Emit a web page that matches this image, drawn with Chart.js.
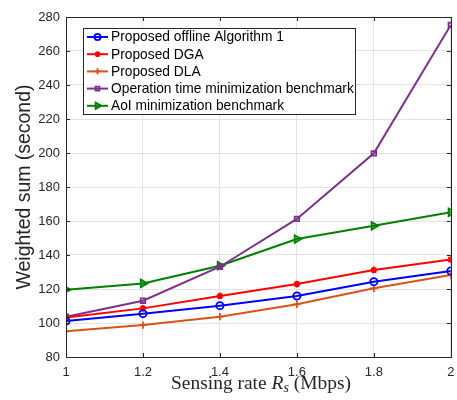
<!DOCTYPE html>
<html>
<head>
<meta charset="utf-8">
<script src="https://cdn.jsdelivr.net/npm/chart.js@4/dist/chart.umd.min.js"></script>
<style>
  html, body { margin: 0; padding: 0; background: #fff; }
  #wrap { width: 457px; height: 400px; }
</style>
</head>
<body>
<div id="wrap"><canvas id="c" width="457" height="400"></canvas></div>
<script>
// Sensing rate (Mbps)
const rates = [1, 1.2, 1.4, 1.6, 1.8, 2];
// Weighted sum (second) per scheme
const offlineAlg1 = [101.2, 105.5, 110.2, 115.9, 124.3, 130.6];
const dga = [103.3, 108.6, 115.9, 122.9, 131.2, 137.3];
const dla = [95.1, 98.8, 103.7, 111.0, 120.4, 128.2];
const opTimeBench = [103.7, 113.1, 133.1, 161.2, 199.8, 275.3];
const aoiBench = [119.6, 123.3, 133.7, 149.4, 157.2, 165.1];
const yTicks = [80, 100, 120, 140, 160, 180, 200, 220, 240, 260, 280];
const xTicks = [1, 1.2, 1.4, 1.6, 1.8, 2];

const seriesNames = [
  'Proposed offline Algorithm 1',
  'Proposed DGA',
  'Proposed DLA',
  'Operation time minimization benchmark',
  'AoI minimization benchmark'
];

const SANS = '"Liberation Sans", Arial, Helvetica, sans-serif';
const SERIF = '"Liberation Serif", "DejaVu Serif", serif';

function pts(vals) { return rates.map((x, i) => ({ x: x, y: vals[i] })); }

function ds(label, vals, color, style, radius, rot, fill) {
  return {
    label: label,
    data: pts(vals),
    borderColor: color,
    backgroundColor: color,
    borderWidth: 2,
    pointStyle: style,
    pointRadius: radius,
    pointHoverRadius: radius,
    pointRotation: rot || 0,
    pointBorderColor: color,
    pointBackgroundColor: fill || 'rgba(0,0,0,0)',
    pointBorderWidth: 1.8,
    tension: 0
  };
}

const datasets = [
  ds(seriesNames[0], offlineAlg1, '#0000ff', 'circle', 3.6),
  ds(seriesNames[1], dga, '#ff0000', 'star', 3.4),
  ds(seriesNames[2], dla, '#d95319', 'cross', 3.6),
  ds(seriesNames[3], opTimeBench, '#7e2f8e', 'rect', 3.2),
  ds(seriesNames[4], aoiBench, '#008000', 'triangle', 4.4, 90, 'rgba(0,128,0,0.35)')
];

// pick a font size so that text spans the given width
function fitFont(ctx, text, family, width, style) {
  ctx.font = (style || '') + ' 20px ' + family;
  return 20 * width / ctx.measureText(text).width;
}

// Box frame, inward ticks, axis titles and legend
const decor = {
  id: 'decor',
  afterDraw(chart) {
    const ctx = chart.ctx;
    const a = chart.chartArea;
    const xs = chart.scales.x, ys = chart.scales.y;
    ctx.save();
    ctx.strokeStyle = '#262626';
    ctx.lineWidth = 1;
    ctx.strokeRect(Math.round(a.left) + 0.5, Math.round(a.top) + 0.5,
                   Math.round(a.right - a.left), Math.round(a.bottom - a.top));
    // inward tick marks on all four sides
    const tl = 4;
    ctx.beginPath();
    yTicks.forEach(v => {
      const y = Math.round(ys.getPixelForValue(v)) + 0.5;
      ctx.moveTo(a.left, y); ctx.lineTo(a.left + tl, y);
      ctx.moveTo(a.right, y); ctx.lineTo(a.right - tl, y);
    });
    xTicks.forEach(v => {
      const x = Math.round(xs.getPixelForValue(v)) + 0.5;
      ctx.moveTo(x, a.bottom); ctx.lineTo(x, a.bottom - tl);
      ctx.moveTo(x, a.top); ctx.lineTo(x, a.top + tl);
    });
    ctx.stroke();

    // y title
    const yTitle = 'Weighted sum (second)';
    const ySize = fitFont(ctx, yTitle, SANS, 205);
    ctx.fillStyle = '#262626';
    ctx.font = ySize.toFixed(2) + 'px ' + SANS;
    ctx.textAlign = 'center';
    ctx.textBaseline = 'middle';
    ctx.save();
    ctx.translate(25, (a.top + a.bottom) / 2);
    ctx.rotate(-Math.PI / 2);
    ctx.fillText(yTitle, 0, 0);
    ctx.restore();

    // x title with italic R and subscript s
    const fs = 18;
    const parts = [
      { t: 'Sensing rate ', f: fs + 'px ' + SERIF, dy: 0 },
      { t: 'R', f: 'italic ' + fs + 'px ' + SERIF, dy: 0 },
      { t: 's', f: 'italic ' + Math.round(fs * 0.7) + 'px ' + SERIF, dy: 3 },
      { t: ' (Mbps)', f: fs + 'px ' + SERIF, dy: 0 }
    ];
    let total = 0;
    parts.forEach(p => { ctx.font = p.f; p.w = ctx.measureText(p.t).width; total += p.w; });
    const k = 180 / total;
    let x0 = 171;
    ctx.textAlign = 'left';
    ctx.textBaseline = 'alphabetic';
    parts.forEach(p => {
      ctx.save();
      ctx.translate(x0, 389 + p.dy);
      ctx.scale(k, k);
      ctx.font = p.f;
      ctx.fillText(p.t, 0, 0);
      ctx.restore();
      x0 += p.w * k;
    });

    // legend
    const lx = 83.5, ly = 28.5, lw = 272, lh = 86;
    ctx.fillStyle = '#ffffff';
    ctx.fillRect(lx, ly, lw, lh);
    ctx.strokeStyle = '#262626';
    ctx.lineWidth = 1;
    ctx.strokeRect(lx, ly, lw, lh);
    const lSize = fitFont(ctx, seriesNames[3], SANS, 243);
    ctx.font = lSize.toFixed(2) + 'px ' + SANS;
    ctx.textAlign = 'left';
    ctx.textBaseline = 'middle';
    chart.data.datasets.forEach((d, i) => {
      const y = 37 + i * 17.2;
      ctx.strokeStyle = d.borderColor;
      ctx.lineWidth = 2;
      ctx.beginPath();
      ctx.moveTo(87, y); ctx.lineTo(108, y);
      ctx.stroke();
      ctx.lineWidth = d.pointBorderWidth;
      ctx.fillStyle = d.pointBackgroundColor;
      Chart.helpers.drawPoint(ctx, {
        pointStyle: d.pointStyle,
        rotation: d.pointRotation,
        radius: d.pointRadius * 0.85,
        borderWidth: d.pointBorderWidth
      }, 97.5, y);
      ctx.fillStyle = '#000000';
      ctx.fillText(d.label, 111, y + 0.5);
    });
    ctx.restore();
  }
};

new Chart(document.getElementById('c'), {
  type: 'line',
  data: { datasets: datasets },
  options: {
    responsive: false,
    animation: false,
    devicePixelRatio: 1,
    layout: { padding: { top: 17, right: 4, left: 0, bottom: 0 } },
    plugins: { legend: { display: false }, tooltip: { enabled: false } },
    scales: {
      x: {
        type: 'linear',
        min: 1, max: 2,
        afterBuildTicks(s) { s.ticks = xTicks.map(v => ({ value: v })); },
        afterFit(s) { s.height = 43; s.paddingLeft = 0; s.paddingRight = 0; },
        grid: { color: '#e3e3e3', drawTicks: false, lineWidth: 1 },
        border: { display: false },
        ticks: {
          padding: 8,
          color: '#262626',
          font: { family: SANS, size: 13 },
          callback: v => String(Math.round(v * 10) / 10),
          maxRotation: 0
        }
      },
      y: {
        type: 'linear',
        min: 80, max: 280,
        afterBuildTicks(s) { s.ticks = yTicks.map(v => ({ value: v })); },
        afterFit(s) { s.width = 66; s.paddingTop = 0; s.paddingBottom = 0; },
        grid: { color: '#e3e3e3', drawTicks: false, lineWidth: 1 },
        border: { display: false },
        ticks: {
          padding: 6,
          color: '#262626',
          font: { family: SANS, size: 13 },
          callback: v => String(v)
        }
      }
    }
  },
  plugins: [decor]
});
</script>
</body>
</html>
